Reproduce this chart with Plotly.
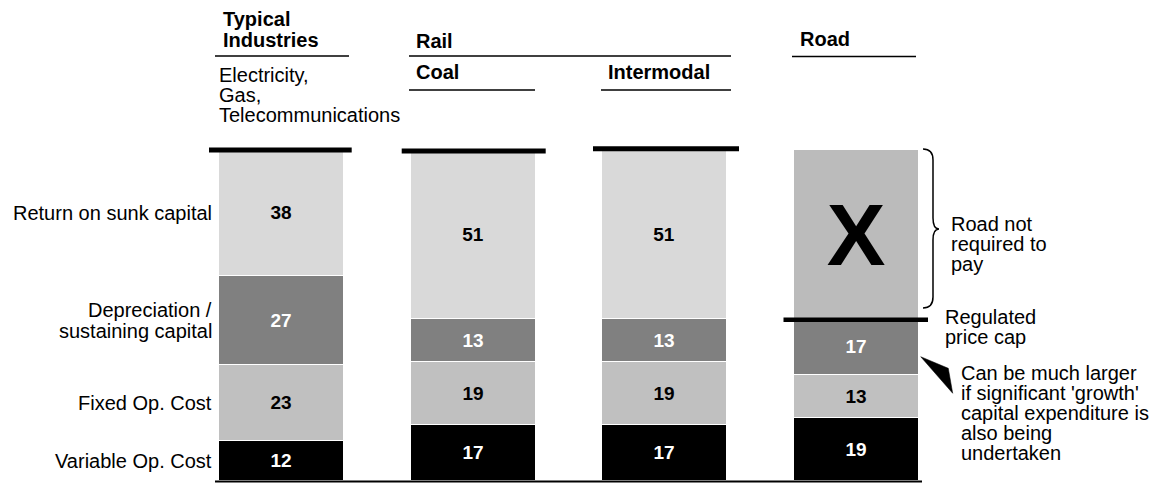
import plotly.graph_objects as go

# ---------------- data ----------------
categories = ["Typical Industries", "Rail - Coal", "Rail - Intermodal", "Road"]
variable_op = [12, 17, 17, 19]
fixed_op = [23, 19, 19, 13]
depreciation = [27, 13, 13, 17]
return_sunk = [38, 51, 51, 51]          # road: portion not required to pay
return_labels = ["38", "51", "51", "X"]
segment_names = ["Variable Op. Cost", "Fixed Op. Cost",
                 "Depreciation /|sustaining capital", "Return on sunk capital"]

W, H = 1160, 484
FONT = "Liberation Sans, Arial, sans-serif"

# pixel calibration for axes
Y0_PX, Y100_PX = 481.0, 150.0
ppu = (Y0_PX - Y100_PX) / 100.0
X0_PX, XSTEP = 281.7, 191.5

def PX(x):
    return x / W

def PY(y):
    return 1 - y / H

xs = list(range(len(categories)))
fig = go.Figure()

NUM = 19

def add_bar(vals, color, labels, tcolor, tsize=NUM):
    fig.add_trace(go.Bar(
        x=xs, y=vals, width=0.653,
        marker=dict(color=color, line=dict(color="white", width=1)),
        text=labels, textposition="inside", insidetextanchor="middle",
        textangle=0, constraintext="none",
        textfont=dict(family=FONT, size=tsize, color=tcolor),
        texttemplate="<b>%{text}</b>", hoverinfo="skip", showlegend=False,
    ))

add_bar(variable_op, "#000000", [str(v) for v in variable_op], "white")
add_bar(fixed_op, "#c0c0c0", [str(v) for v in fixed_op], "black")
add_bar(depreciation, "#808080", [str(v) for v in depreciation], "white")
add_bar(return_sunk, ["#d9d9d9", "#d9d9d9", "#d9d9d9", "#bbbbbb"], return_labels,
        "black", [NUM, NUM, NUM, 88])

ann = []

def text(t, x, y, size=20, bold=False, xanchor="left", yref="paper", yshift=0):
    ann.append(dict(
        text=("<b>%s</b>" % t) if bold else t,
        x=PX(x), xref="paper", y=(PY(y) if yref == "paper" else y), yref=yref,
        xanchor=xanchor, yanchor="middle", showarrow=False, borderpad=0,
        yshift=yshift, font=dict(family=FONT, size=size, color="black"),
    ))

# headers
text("Typical", 221.5, 19.2, bold=True)
text("Industries", 221.5, 39.8, bold=True)
text("Rail", 414.5, 40.5, bold=True)
text("Road", 798.5, 39.5, bold=True)
text("Coal", 415, 72, bold=True)
text("Intermodal", 606.5, 72, bold=True)
text("Electricity,", 217.5, 75.3)
text("Gas,", 217.5, 95.3)
text("Telecommunications", 217.5, 115)

# left segment labels at bar-1 segment centres
seg_vals = [variable_op[0], fixed_op[0], depreciation[0], return_sunk[0]]
cum = 0
for name, v in zip(segment_names, seg_vals):
    centre = cum + v / 2
    cum += v
    lines = name.split("|")
    n = len(lines)
    for i, ln in enumerate(lines):
        off = (i - (n - 1) / 2) * 21
        text(ln, 213, centre, xanchor="right", yref="y", yshift=-off)

# right annotations
text("Road not", 950, 224)
text("required to", 950, 244)
text("pay", 950, 264)
text("Regulated", 944, 316.7)
text("price cap", 944, 336.6)
for i, ln in enumerate(["Can be much larger", "if significant 'growth'",
                        "capital expenditure is", "also being", "undertaken"]):
    text(ln, 959.5, 373.3 + 20 * i)

shapes = []

def line(x0, y0, x1, y1, w, yref="paper"):
    shapes.append(dict(type="line", xref="paper", yref=yref,
                       x0=PX(x0), x1=PX(x1),
                       y0=PY(y0) if yref == "paper" else y0,
                       y1=PY(y1) if yref == "paper" else y1,
                       line=dict(color="black", width=w)))

# header rules
line(215, 56, 349, 56, 1.5)
line(409, 56, 731, 56, 1.5)
line(792, 56.5, 916, 56.5, 1.5)
line(409, 90, 535, 90, 1.5)
line(601, 90, 731, 90, 1.5)

# thick caps at total (100) and regulated price cap (road)
total = 100
line(209, total, 351.7, total, 5, yref="y")
line(401.7, total - 0.3, 545.7, total - 0.3, 5, yref="y")
line(593, total + 0.4, 739, total + 0.4, 5, yref="y")
price_cap = variable_op[3] + fixed_op[3] + depreciation[3]
line(783.5, price_cap - 0.3, 928, price_cap - 0.3, 4.5, yref="y")

# baseline
line(215, 481.5, 922, 481.5, 2)

def P(x, y):
    return "%.5f,%.5f" % (PX(x), PY(y))

brace = ("M %s Q %s %s L %s Q %s %s Q %s %s L %s Q %s %s" % (
    P(923, 149), P(933, 149), P(933, 160), P(933, 218),
    P(933, 229), P(939, 229), P(933, 229), P(933, 240),
    P(933, 297), P(933, 308), P(923, 308)))
shapes.append(dict(type="path", xref="paper", yref="paper", path=brace,
                   line=dict(color="black", width=1.5)))

wedge = "M %s L %s L %s Z" % (P(920.7, 356.7), P(948.3, 368.3), P(952.7, 393.3))
shapes.append(dict(type="path", xref="paper", yref="paper", path=wedge,
                   fillcolor="black", line=dict(color="black", width=0.5)))

fig.update_layout(
    width=W, height=H, autosize=False,
    margin=dict(l=0, r=0, t=0, b=0, pad=0),
    paper_bgcolor="white", plot_bgcolor="white",
    barmode="stack", bargap=0,
    xaxis=dict(visible=False, range=[-X0_PX / XSTEP, (W - X0_PX) / XSTEP]),
    yaxis=dict(visible=False, range=[-(H - Y0_PX) / ppu, Y0_PX / ppu]),
    annotations=ann, shapes=shapes, showlegend=False,
    font=dict(family=FONT),
)

fig.write_html("out.html")
